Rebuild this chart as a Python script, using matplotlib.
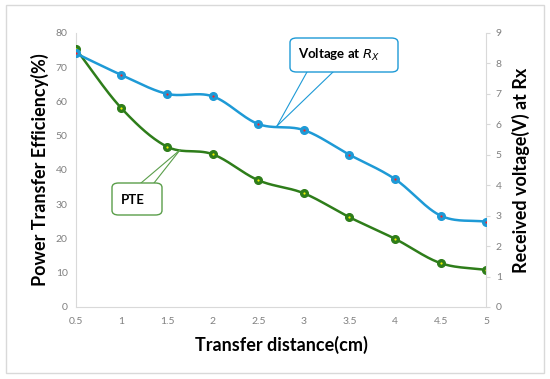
import numpy as np
import matplotlib
matplotlib.use("Agg")
import matplotlib.pyplot as plt
from matplotlib.patches import FancyBboxPatch

distance = [0.5, 1, 1.5, 2, 2.5, 3, 3.5, 4, 4.5, 5]
pte = [75.3, 58.0, 46.8, 44.6, 37.0, 33.2, 26.2, 19.9, 12.8, 10.8]
voltage = [8.33, 7.62, 7.0, 6.92, 6.01, 5.81, 5.0, 4.2, 3.0, 2.8]

x_ticks = [0.5, 1, 1.5, 2, 2.5, 3, 3.5, 4, 4.5, 5]
x_ticklabels = ["0.5", "1", "1.5", "2", "2.5", "3", "3.5", "4", "4.5", "5"]
left_ticks = [0, 10, 20, 30, 40, 50, 60, 70, 80]
right_ticks = [0, 1, 2, 3, 4, 5, 6, 7, 8, 9]

plt.rcParams['font.family'] = ['Lato', 'DejaVu Sans']

def smooth(x, y, n=30):
    x = np.asarray(x, float); y = np.asarray(y, float)
    px = np.concatenate([[2*x[0]-x[1]], x, [2*x[-1]-x[-2]]])
    py = np.concatenate([[2*y[0]-y[1]], y, [2*y[-1]-y[-2]]])
    xs, ys = [], []
    t = np.linspace(0, 1, n)
    for i in range(1, len(px)-2):
        p0, p1, p2, p3 = [np.array([px[j], py[j]]) for j in (i-1, i, i+1, i+2)]
        c1 = p1 + (p2 - p0) / 6
        c2 = p2 - (p3 - p1) / 6
        pts = ((1-t)**3)[:, None]*p1 + (3*(1-t)**2*t)[:, None]*c1 + (3*(1-t)*t**2)[:, None]*c2 + (t**3)[:, None]*p2
        xs.append(pts[:, 0]); ys.append(pts[:, 1])
    return np.concatenate(xs), np.concatenate(ys)

fig = plt.figure(figsize=(5.5, 3.79), dpi=100)
ax = fig.add_axes([0.138, 0.19, 0.746, 0.723])
ax2 = ax.twinx()

green = "#2e7d1a"
blue = "#1e9ad6"

sx, sy = smooth(distance, pte)
ax.plot(sx, sy, color=green, lw=1.8, zorder=3)
ax.plot(distance, pte, 'o', ms=5.5, mfc=green, mec=green, zorder=4)
ax.plot(distance, pte, 'o', ms=1.6, mfc="#f2f200", mec="none", zorder=5)

vx, vy = smooth(distance, voltage)
ax2.plot(vx, vy, color=blue, lw=1.8, zorder=3)
ax2.plot(distance, voltage, 'o', ms=5.5, mfc=blue, mec=blue, zorder=4)
ax2.plot(distance, voltage, 'o', ms=1.6, mfc="#ff2020", mec="none", zorder=5)

ax.set_xlim(0.5, 5)
ax.set_ylim(0, 80)
ax2.set_ylim(0, 9)
ax.set_xticks(x_ticks)
ax.set_xticklabels(x_ticklabels)
ax.set_yticks(left_ticks)
ax2.set_yticks(right_ticks)

for a in (ax, ax2):
    for s in a.spines.values():
        s.set_visible(False)
ax.spines['left'].set_visible(True)
ax.spines['bottom'].set_visible(True)
ax.spines['left'].set_color("#d9d9d9")
ax.spines['bottom'].set_color("#d9d9d9")
ax2.spines['right'].set_visible(True)
ax2.spines['right'].set_color("#d9d9d9")

ax.tick_params(axis='both', length=0, labelsize=7.5, labelcolor="#808080", pad=6)
ax.tick_params(axis='x', pad=7)
ax2.tick_params(axis='y', length=3, color="#d9d9d9", labelsize=7.5, labelcolor="#808080", pad=4)

ax.set_xlabel("Transfer distance(cm)", fontsize=13, fontweight='bold', labelpad=7)
ax.set_ylabel("Power Transfer Efficiency(%)", fontsize=13, fontweight='bold', labelpad=5)
ax2.set_ylabel("Received voltage(V) at Rx", fontsize=13, fontweight='bold', labelpad=7)

W, H = 550, 379
def fx(px): return px / W
def fy(py): return 1 - py / H

# Voltage callout
b1 = FancyBboxPatch((fx(290), fy(72)), fx(398)-fx(290), fy(38)-fy(72),
                    boxstyle="round,pad=0,rounding_size=0.012", transform=fig.transFigure,
                    fc="white", ec=blue, lw=1.0, zorder=10)
fig.patches.append(b1)
fig.text(fx(298), fy(55), r"Voltage at $R_X$", fontsize=9.5, fontweight='bold', va='center', ha='left', zorder=11)
fig.lines.append(plt.Line2D([fx(307), fx(277)], [fy(72), fy(126)], transform=fig.transFigure, color=blue, lw=0.8))
fig.lines.append(plt.Line2D([fx(333), fx(277)], [fy(72), fy(126)], transform=fig.transFigure, color=blue, lw=0.8))

# PTE callout
b2 = FancyBboxPatch((fx(112), fy(215)), fx(162)-fx(112), fy(183)-fy(215),
                    boxstyle="round,pad=0,rounding_size=0.012", transform=fig.transFigure,
                    fc="white", ec="#5a9e4a", lw=1.0, zorder=10)
fig.patches.append(b2)
fig.text(fx(121), fy(200), "PTE", fontsize=9.5, fontweight='bold', va='center', ha='left', zorder=11)
fig.lines.append(plt.Line2D([fx(141), fx(180)], [fy(183), fy(150)], transform=fig.transFigure, color="#5a9e4a", lw=0.8))
fig.lines.append(plt.Line2D([fx(154), fx(180)], [fy(183), fy(150)], transform=fig.transFigure, color="#5a9e4a", lw=0.8))

border = FancyBboxPatch((fx(6), fy(373)), fx(544)-fx(6), fy(5)-fy(373),
                        boxstyle="square,pad=0", transform=fig.transFigure,
                        fc="none", ec="#d9d9d9", lw=1.0)
fig.patches.append(border)

fig.savefig("out.png", dpi=100)
